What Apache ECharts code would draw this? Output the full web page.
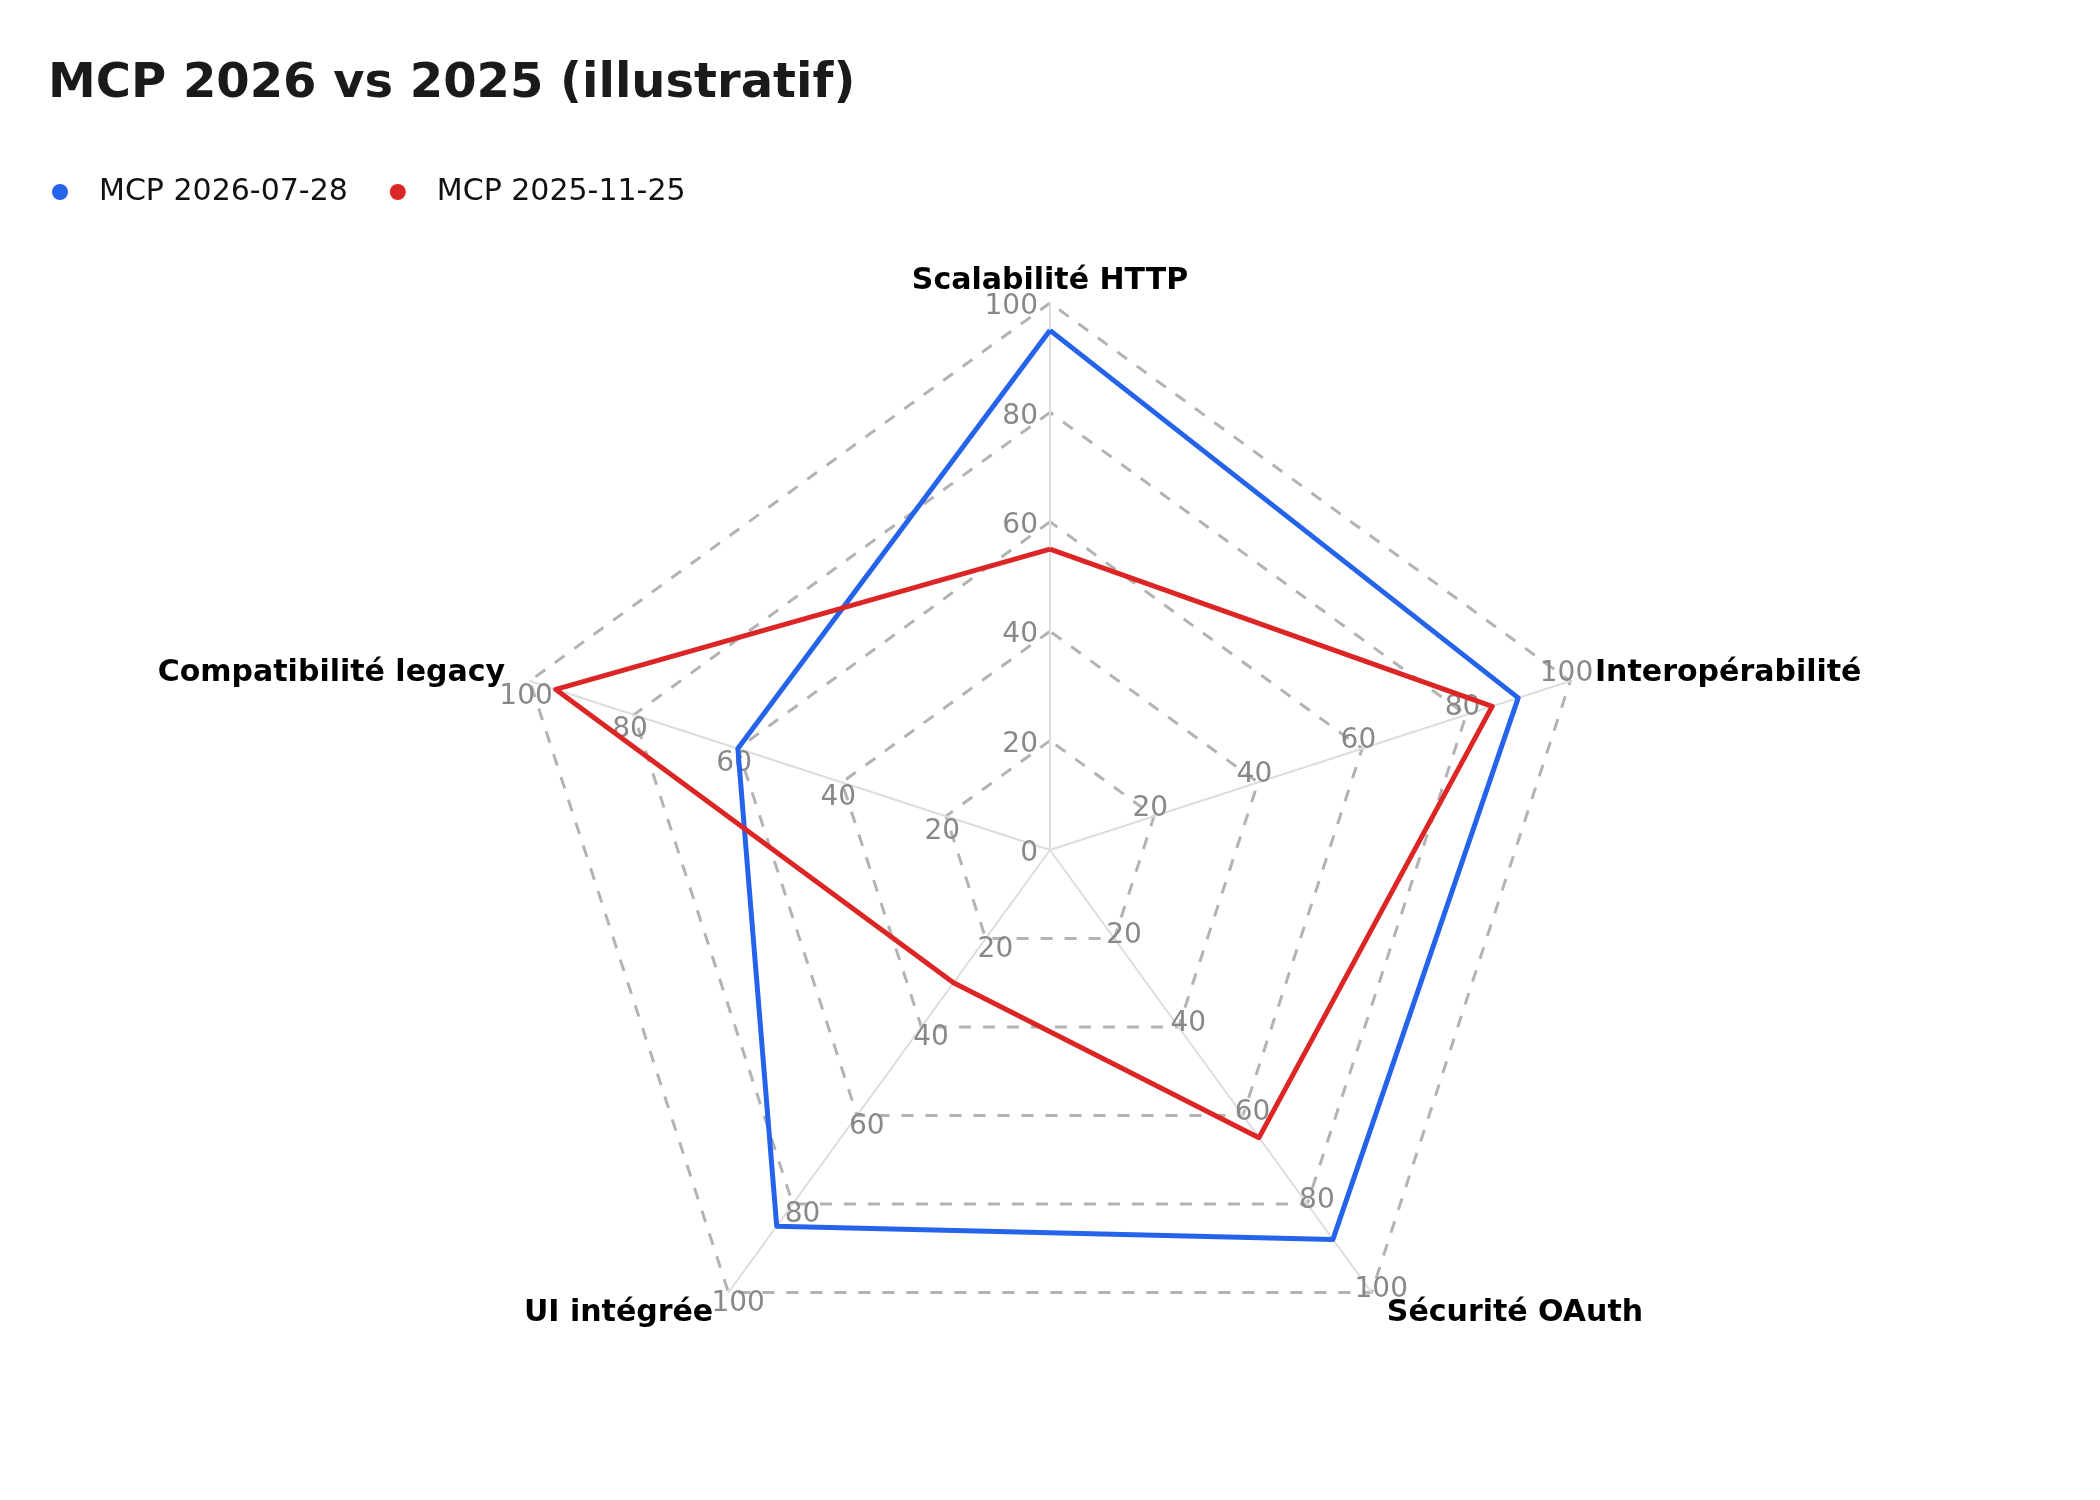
<!DOCTYPE html>
<html>
<head>
<meta charset="utf-8">
<script src="https://cdn.jsdelivr.net/npm/echarts@6/dist/echarts.min.js"></script>
<style>
html,body{margin:0;padding:0;background:#fff;}
#chart{width:2100px;height:1500px;}
</style>
</head>
<body>
<div id="chart"></div>
<script>
const titleText = 'MCP 2026 vs 2025 (illustratif)';
// Indicators in clockwise order starting at the top (as read on the chart)
const indicators = ['Scalabilité HTTP', 'Interopérabilité', 'Sécurité OAuth', 'UI intégrée', 'Compatibilité legacy'];
const seriesNames = ['MCP 2026-07-28', 'MCP 2025-11-25'];
const values2026 = [95, 90, 88, 85, 60];
const values2025 = [55, 85, 65, 30, 95];
const axisMax = 100;

// ECharts lays radar indicators counter-clockwise; reorder so the chart reads clockwise.
const order = [0, 4, 3, 2, 1];
const reorder = arr => order.map(i => arr[i]);

const indicatorOpts = reorder(indicators).map((n, k) => {
  if (k === 0) {
    return {name: n, min: 0, max: axisMax, nameGap: 7, nameMoveOverlap: false};
  }
  return {name: n, min: 0, max: axisMax, nameMoveOverlap: false,
          axisLabel: {showMinLabel: false, align: 'center'}};
});

const chart = echarts.init(document.getElementById('chart'), null, {renderer: 'canvas'});
chart.setOption({
  backgroundColor: '#ffffff',
  animation: false,
  textStyle: {fontFamily: 'DejaVu Sans'},
  title: {
    text: titleText,
    left: 43,
    top: 56,
    textStyle: {fontSize: 48, fontWeight: 'bold', color: '#1a1a1a', fontFamily: 'DejaVu Sans'}
  },
  legend: {
    data: seriesNames,
    left: 47,
    top: 172,
    icon: 'circle',
    itemWidth: 68,
    itemHeight: 16,
    itemGap: 42,
    textStyle: {fontSize: 30, color: '#111', fontFamily: 'DejaVu Sans'}
  },
  color: ['#2563eb', '#dc2626'],
  radar: {
    center: [1050, 850],
    radius: 547,
    startAngle: 90,
    shape: 'polygon',
    splitNumber: 5,
    axisNameGap: 26,
    indicator: indicatorOpts,
    axisName: {color: '#000', fontSize: 30, fontWeight: 'bold', fontFamily: 'DejaVu Sans'},
    axisLine: {show: true, lineStyle: {color: '#dddddd', width: 2}},
    splitLine: {show: true, lineStyle: {color: '#b3b3b3', width: 3, type: [12, 12]}},
    splitArea: {show: false},
    axisTick: {show: false},
    axisLabel: {
      show: true, color: '#888', fontSize: 28, fontFamily: 'DejaVu Sans', margin: 12,
      formatter: '{v|{value}}',
      rich: {v: {color: '#888', fontSize: 28, fontFamily: 'DejaVu Sans', padding: [8, 0, 0, 0]}}
    }
  },
  series: [{
    type: 'radar',
    symbol: 'none',
    data: [
      {name: seriesNames[0], value: reorder(values2026), lineStyle: {width: 5, color: '#2563eb'}, itemStyle: {color: '#2563eb'}},
      {name: seriesNames[1], value: reorder(values2025), lineStyle: {width: 5, color: '#dc2626'}, itemStyle: {color: '#dc2626'}}
    ]
  }]
});
</script>
</body>
</html>
